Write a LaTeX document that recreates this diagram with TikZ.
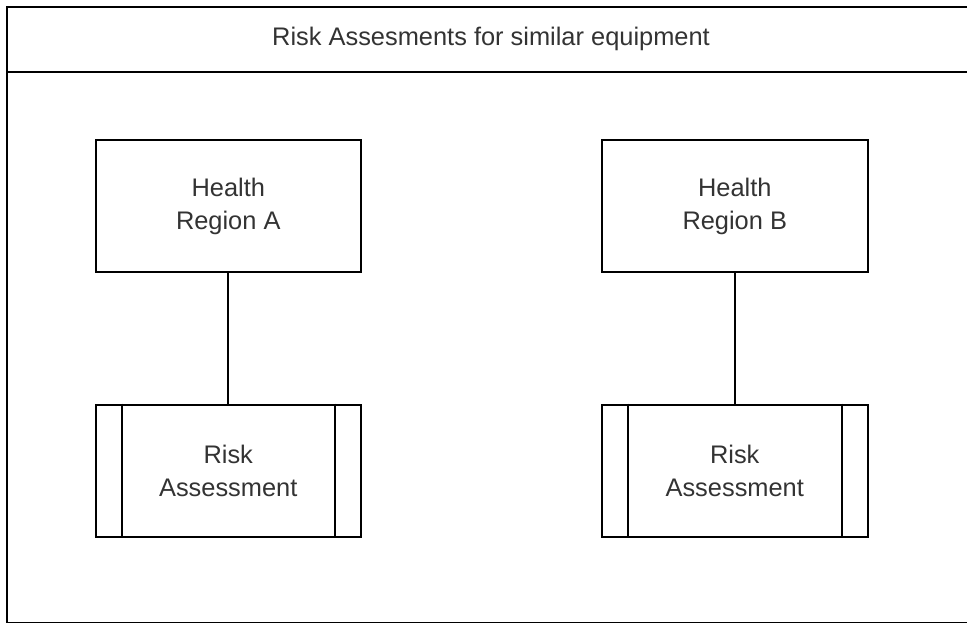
\documentclass[tikz,border=0pt]{standalone}
\usepackage{fontspec}
\setmainfont{Liberation Sans}
\begin{document}
\begin{tikzpicture}[x=1pt,y=-1pt,
  line width=2pt,
  txt/.style={text=black!80, font=\fontsize{25.4}{33}\selectfont, align=center, inner sep=0pt},
  box/.style={draw=black, line width=2pt, minimum width=265.5pt, minimum height=132pt, inner sep=0pt, anchor=north west},
  sub/.style={draw=black, line width=2pt},
  wire/.style={draw=black, line width=2pt}
]
\useasboundingbox (0,0) rectangle (967,623);
\begin{scope}
  \clip (0,0) rectangle (967,623);
  % outer frame with title bar
  \draw[line width=2pt] (7,7) rectangle (978,622.8);
  \draw[line width=2pt] (7,72) -- (978,72);
\end{scope}
\node[txt] (title) at (491,38.5) {Risk Assesments for similar equipment};

% health regions
\node[box] (ha) at (94.5,139) {};
\node[txt] (hat) at (ha.center) {Health\\Region A};
\node[box] (hb) at (601,139) {};
\node[txt] (hbt) at (hb.center) {Health\\Region B};

% predefined-process boxes
\node[box] (ra) at (94.5,403.5) {};
\node[txt] (rat) at (ra.center) {Risk\\Assessment};
\draw[sub] ([xshift=27pt]ra.north west) -- ([xshift=27pt]ra.south west);
\draw[sub] ([xshift=-27pt]ra.north east) -- ([xshift=-27pt]ra.south east);

\node[box] (rb) at (601,403.5) {};
\node[txt] (rbt) at (rb.center) {Risk\\Assessment};
\draw[sub] ([xshift=27pt]rb.north west) -- ([xshift=27pt]rb.south west);
\draw[sub] ([xshift=-27pt]rb.north east) -- ([xshift=-27pt]rb.south east);

% connectors
\draw[wire] (ha.south) -- (ra.north);
\draw[wire] (hb.south) -- (rb.north);
\end{tikzpicture}
\end{document}
